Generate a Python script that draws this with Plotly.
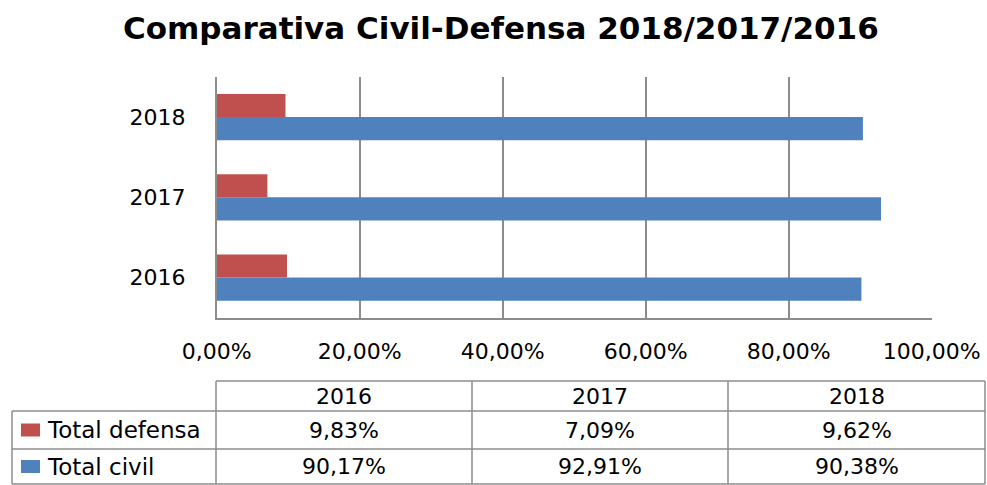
import plotly.graph_objects as go

years = ["2016", "2017", "2018"]
defensa = [9.83, 7.09, 9.62]
civil = [90.17, 92.91, 90.38]
series_names = ["Total defensa", "Total civil"]
x_ticks = [0, 20, 40, 60, 80, 100]

RED = "#C0504D"
BLUE = "#4F81BD"
GRID = "#8C8C8C"
FONT = "DejaVu Sans"
W, H = 987, 485

def px(x):
    return x / W

def py(y):
    return 1 - y / H

def fmt(v):
    return f"{v:.2f}".replace(".", ",") + "%"

fig = go.Figure()
# civil first -> lower bar in each group; defensa above
fig.add_trace(go.Bar(y=years, x=civil, orientation="h", name=series_names[1],
                     marker=dict(color=BLUE, line=dict(width=0))))
fig.add_trace(go.Bar(y=years, x=defensa, orientation="h", name=series_names[0],
                     marker=dict(color=RED, line=dict(width=0))))

shapes = []
annotations = []

# Table geometry
tx = [12, 216, 472, 728, 985]
ty = [381, 411, 449, 484]
line = dict(color=GRID, width=1.5)
shapes.append(dict(type="line", xref="paper", yref="paper", x0=px(tx[1]), x1=px(tx[4]), y0=py(ty[0]), y1=py(ty[0]), line=line))
for yv in ty[1:]:
    shapes.append(dict(type="line", xref="paper", yref="paper", x0=px(tx[0]), x1=px(tx[4]), y0=py(yv), y1=py(yv), line=line))
shapes.append(dict(type="line", xref="paper", yref="paper", x0=px(tx[0]), x1=px(tx[0]), y0=py(ty[1]), y1=py(ty[3]), line=line))
for xv in tx[1:]:
    shapes.append(dict(type="line", xref="paper", yref="paper", x0=px(xv), x1=px(xv), y0=py(ty[0]), y1=py(ty[3]), line=line))

tfont = dict(family=FONT, size=22, color="#000000")
lfont = dict(family=FONT, size=23, color="#000000")
for i, yr in enumerate(years):
    cx = (tx[i + 1] + tx[i + 2]) / 2
    annotations.append(dict(xref="paper", yref="paper", x=px(cx), y=py((ty[0] + ty[1]) / 2),
                            text=yr, showarrow=False, font=tfont, xanchor="center", yanchor="middle"))
rows = [(series_names[0], defensa, RED), (series_names[1], civil, BLUE)]
for r, (name, vals, col) in enumerate(rows):
    cy = (ty[r + 1] + ty[r + 2]) / 2
    shapes.append(dict(type="rect", xref="paper", yref="paper", x0=px(21), x1=px(40), y0=py(cy + 6.5), y1=py(cy - 6.5),
                       fillcolor=col, line=dict(width=0)))
    annotations.append(dict(xref="paper", yref="paper", x=px(45), y=py(cy), text=name, showarrow=False,
                            font=lfont, xanchor="left", yanchor="middle"))
    for i, v in enumerate(vals):
        cx = (tx[i + 1] + tx[i + 2]) / 2
        annotations.append(dict(xref="paper", yref="paper", x=px(cx), y=py(cy), text=fmt(v), showarrow=False,
                                font=tfont, xanchor="center", yanchor="middle"))

annotations.append(dict(xref="paper", yref="paper", x=px(501), y=py(28),
                        text="<b>Comparativa Civil-Defensa 2018/2017/2016</b>", showarrow=False,
                        font=dict(family=FONT, size=31, color="#000000"), xanchor="center", yanchor="middle"))

fig.update_layout(
    width=W, height=H,
    margin=dict(l=0, r=0, t=0, b=0, autoexpand=False),
    paper_bgcolor="white", plot_bgcolor="white",
    barmode="group", bargap=0.425, bargroupgap=0,
    showlegend=False,
    shapes=shapes, annotations=annotations,
    xaxis=dict(domain=[px(216.7), px(931.7)], range=[0, 100], tickmode="array", tickvals=x_ticks,
               ticktext=[fmt(v) for v in x_ticks], automargin=False,
               showgrid=True, gridcolor=GRID, gridwidth=1.5,
               showline=True, linecolor=GRID, linewidth=1.5, mirror=False, zeroline=False,
               ticks="", ticklabelstandoff=13,
               tickfont=dict(family=FONT, size=22, color="#000000")),
    yaxis=dict(domain=[py(317.7), py(77)], type="category", showgrid=False, automargin=False,
               showline=True, linecolor=GRID, linewidth=1.5, ticks="", ticklabelstandoff=25,
               tickfont=dict(family=FONT, size=22, color="#000000")),
)

fig.write_html("out.html")
